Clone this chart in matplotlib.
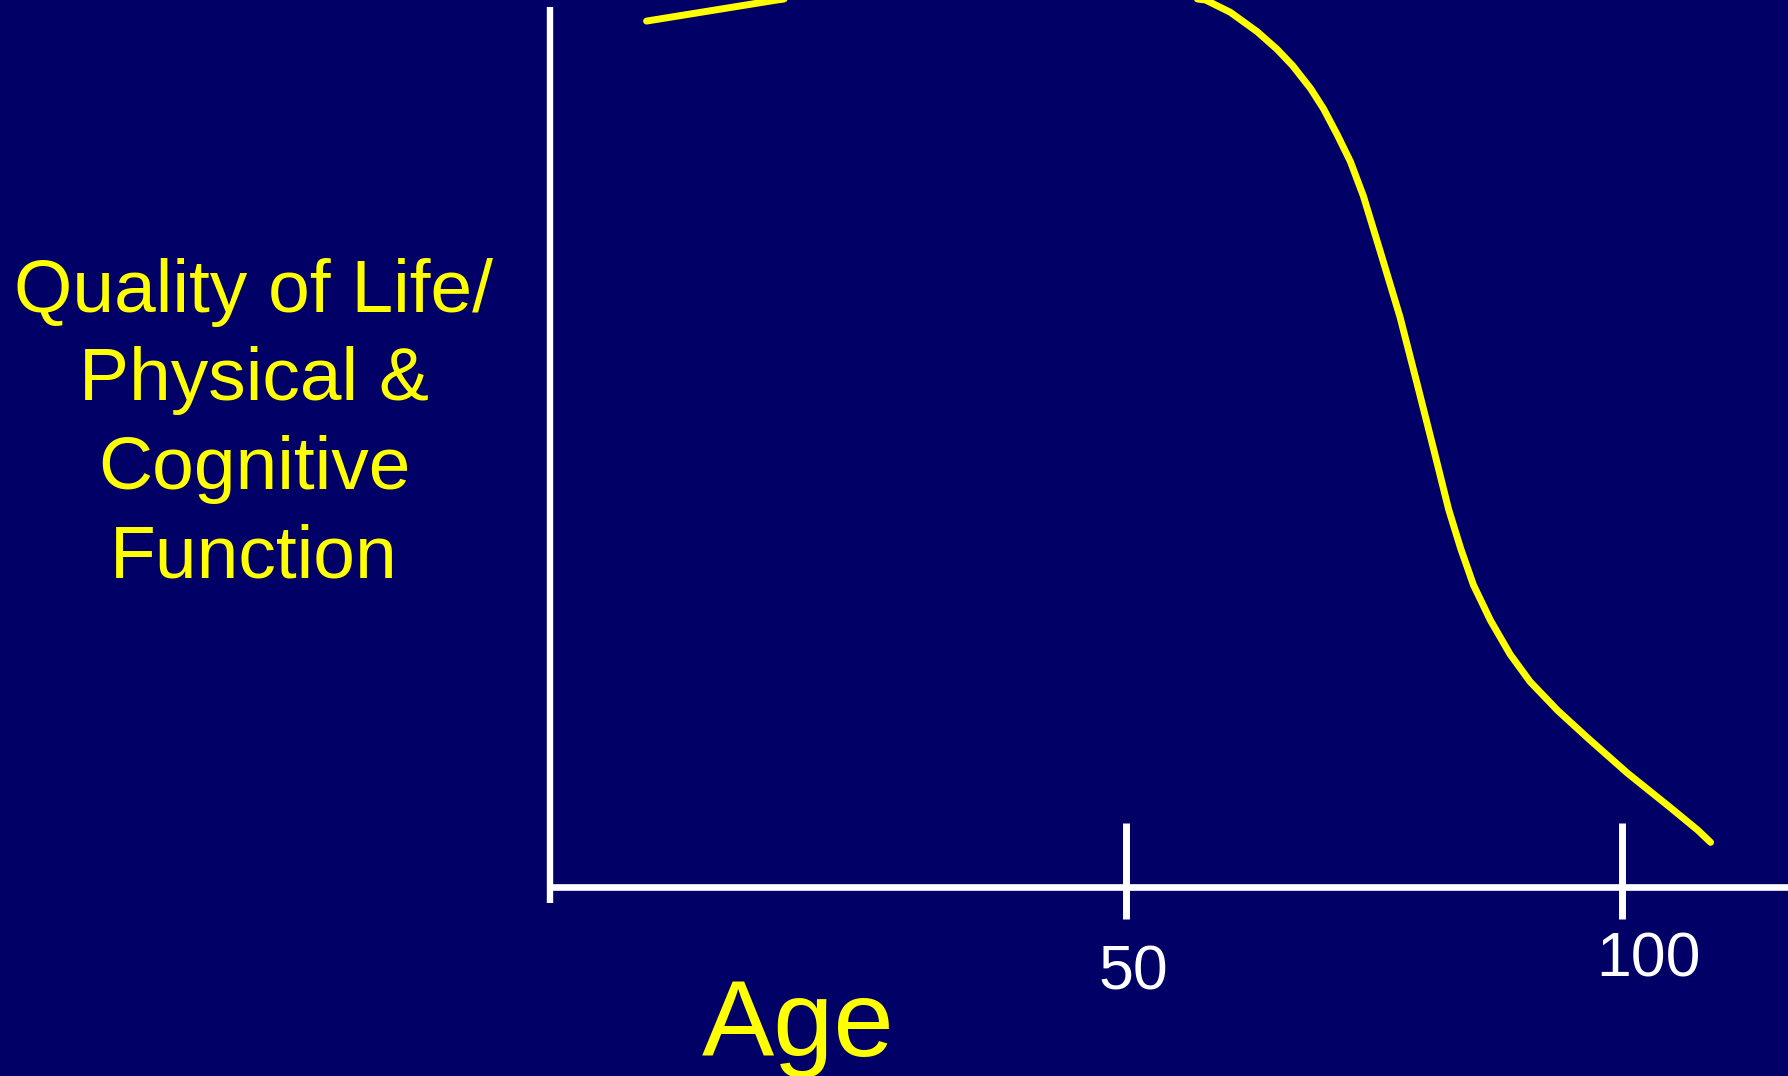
import matplotlib.pyplot as plt

# data (age in years, function on a 0-100 scale)
ages = [1.66, 14.8, 25, 35, 45, 58.0, 60.5, 63.2, 65.2, 66.8, 68.6, 69.9,
        71.3, 72.6, 73.9, 75.6, 77.6, 79.3, 81.0, 82.5, 83.7, 85.0, 86.7,
        88.7, 90.7, 93.5, 96.5, 100.5, 104.8, 107.6, 108.9]
function = [98.6, 101.0, 102.6, 103.3, 102.8, 101.0, 99.6, 97.4, 95.4, 93.5,
            90.9, 88.6, 85.6, 82.6, 78.7, 72.4, 64.9, 57.4, 49.8, 43.0, 38.6,
            34.4, 30.4, 26.5, 23.4, 20.1, 17.0, 13.0, 9.1, 6.5, 5.1]
tick_ages = [50, 100]
tick_labels = ['50', '100']
ylabel_lines = ['Quality of Life/', 'Physical &', 'Cognitive', 'Function']
xlabel = 'Age'

BG = '#000066'
YELLOW = '#FFFF00'
WHITE = '#FFFFFF'
FONT = 'Liberation Sans'

fig = plt.figure(figsize=(17.88, 10.76), dpi=100, facecolor=BG)
ax = fig.add_axes([0, 0, 1, 1])
ax.set_facecolor(BG)
ax.set_xlim(-63.5, 116.7)
ax.set_ylim(-21.5, 101.0)
ax.axis('off')

# axes drawn by hand, like the slide
y_axis_x = -8.06
ax.plot([y_axis_x, y_axis_x], [-1.8, 100.2], color=WHITE, lw=4.6,
        solid_capstyle='butt', clip_on=False)
ax.plot([y_axis_x, 116.7], [0, 0], color=WHITE, lw=4.8,
        solid_capstyle='butt', clip_on=False)
ax.vlines(tick_ages, -3.6, 7.3, color=WHITE, lw=5)

for a, lab, dx, dy in zip(tick_ages, tick_labels, [0.7, 2.6], [-9.8, -8.3]):
    ax.text(a + dx, dy, lab, color=WHITE, fontsize=45, family=FONT,
            ha='center', va='center')

# the curve
ax.plot(ages, function, color=YELLOW, lw=5, solid_capstyle='round',
        solid_joinstyle='round')

# labels
fig.text(798 / 1788, 1 - 1056 / 1076, xlabel, color=YELLOW, fontsize=78,
         family=FONT, ha='center', va='baseline')
fig.text(254 / 1788, 1 - 425 / 1076, '\n'.join(ylabel_lines), color=YELLOW,
         fontsize=54, family=FONT, ha='center', va='center',
         multialignment='center', linespacing=1.36)

fig.savefig('out.png', dpi=100, facecolor=BG)
